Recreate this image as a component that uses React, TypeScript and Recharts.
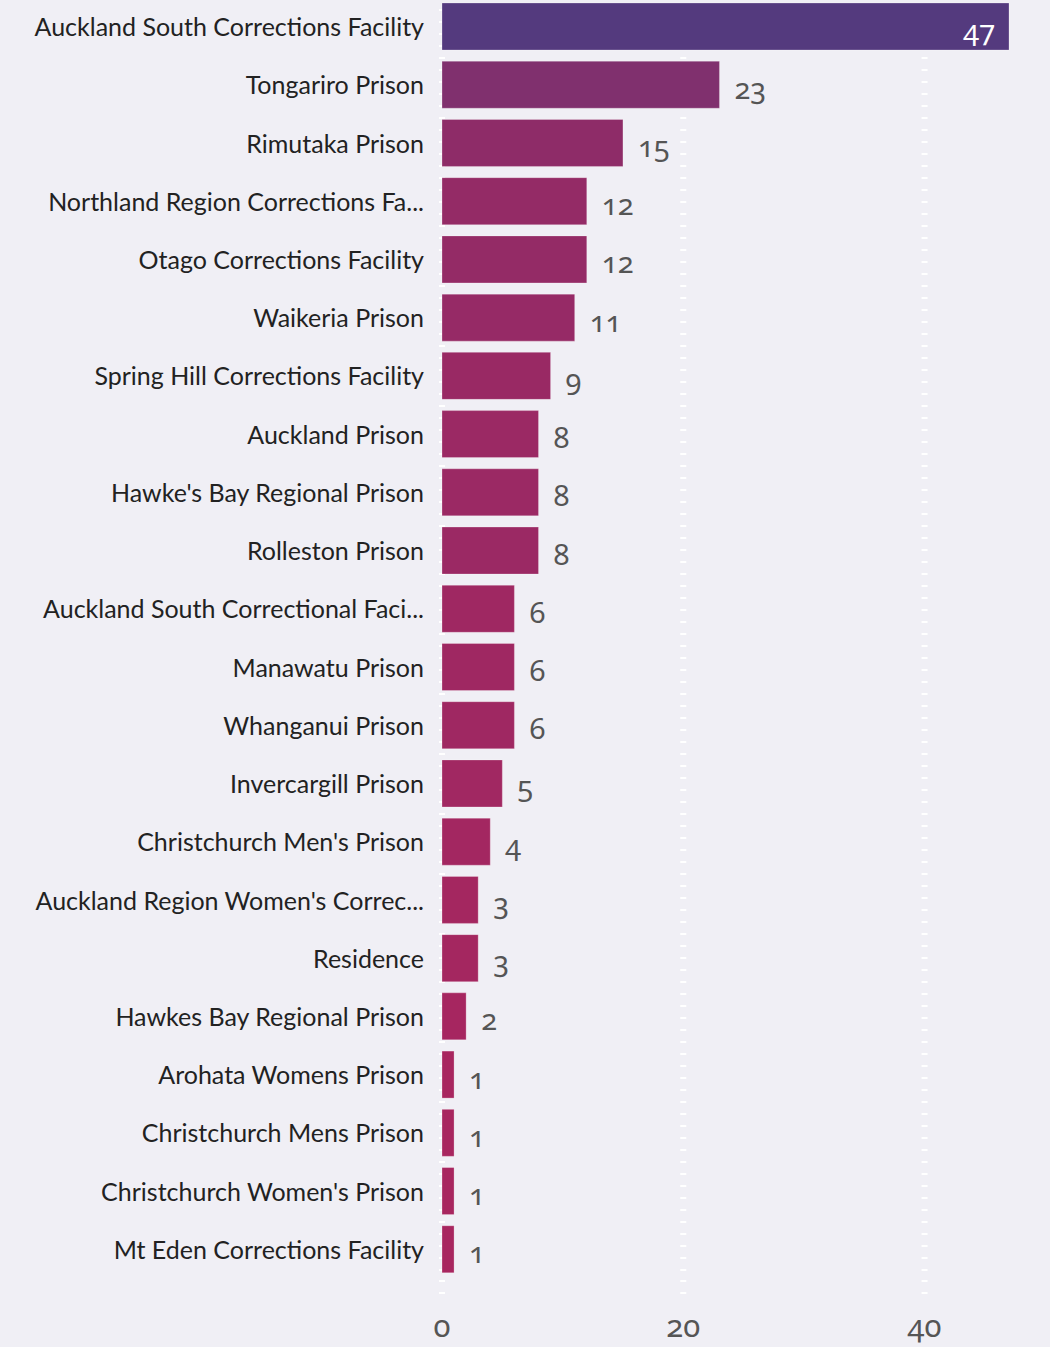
import React from 'react';
import { BarChart, Bar, XAxis, YAxis, CartesianGrid, Cell, LabelList } from 'recharts';

const facilities = [
  'Auckland South Corrections Facility',
  'Tongariro Prison',
  'Rimutaka Prison',
  'Northland Region Corrections Fa...',
  'Otago Corrections Facility',
  'Waikeria Prison',
  'Spring Hill Corrections Facility',
  'Auckland Prison',
  "Hawke's Bay Regional Prison",
  'Rolleston Prison',
  'Auckland South Correctional Faci...',
  'Manawatu Prison',
  'Whanganui Prison',
  'Invercargill Prison',
  "Christchurch Men's Prison",
  "Auckland Region Women's Correc...",
  'Residence',
  'Hawkes Bay Regional Prison',
  'Arohata Womens Prison',
  'Christchurch Mens Prison',
  "Christchurch Women's Prison",
  'Mt Eden Corrections Facility',
];

const counts = [47, 23, 15, 12, 12, 11, 9, 8, 8, 8, 6, 6, 6, 5, 4, 3, 3, 2, 1, 1, 1, 1];

const xTicks = [0, 20, 40];

const data = facilities.map((name, i) => ({ name, value: counts[i] }));

const maxVal = Math.max(...counts);
const minVal = Math.min(...counts);

// low values -> magenta, high values -> purple
const lowColor = [168, 38, 95];
const highColor = [84, 58, 126];

const colorFor = (v: number) => {
  const f = (v - minVal) / (maxVal - minVal);
  const c = lowColor.map((lo, i) => Math.round(lo + f * (highColor[i] - lo)));
  return `rgb(${c[0]},${c[1]},${c[2]})`;
};

const numFont = {
  fontFamily: '"Noto Sans", sans-serif',
  fontVariantNumeric: 'oldstyle-nums' as const,
};

const CategoryTick = (props: any) => {
  const { x, y, payload } = props;
  return (
    <text
      x={x - 10}
      y={y + 10}
      textAnchor="end"
      fill="#222"
      fontSize={25}
      fontFamily="Lato, sans-serif"
    >
      {payload.value}
    </text>
  );
};

const ValueTick = (props: any) => {
  const { x, y, payload } = props;
  return (
    <text x={x} y={y + 41} textAnchor="middle" fill="#555" fontSize={31} style={numFont}>
      {payload.value}
    </text>
  );
};

const ValueLabel = (props: any) => {
  const { x, y, width, height, value } = props;
  const inside = value === maxVal;
  return (
    <text
      x={inside ? x + width - 14 : x + width + 15}
      y={y + height / 2 + 14}
      textAnchor={inside ? 'end' : 'start'}
      fill={inside ? '#fff' : '#555'}
      fontSize={29}
      style={numFont}
    >
      {value}
    </text>
  );
};

export default function App() {
  return (
    <div style={{ position: 'absolute', left: 0, top: 0, width: 1050, height: 1347, background: '#f0eff5' }}>
      <BarChart
        width={1050}
        height={1347}
        data={data}
        layout="vertical"
        margin={{ top: -3, right: 41, bottom: 0, left: 0 }}
        barSize={47}
      >
        <CartesianGrid
          horizontal={false}
          verticalValues={xTicks}
          stroke="#ffffff"
          strokeWidth={6}
          strokeDasharray="2 10"
        />
        <XAxis
          type="number"
          domain={[0, maxVal]}
          ticks={xTicks}
          axisLine={false}
          tickLine={{ stroke: '#ffffff', strokeWidth: 6, strokeDasharray: '2 10' }}
          tickSize={16}
          height={69}
          tick={<ValueTick />}
        />
        <YAxis
          type="category"
          dataKey="name"
          width={442}
          axisLine={false}
          tickLine={false}
          interval={0}
          tick={<CategoryTick />}
        />
        <Bar dataKey="value" isAnimationActive={false} stroke="rgba(255,255,255,0.25)" strokeWidth={1}>
          {data.map((d) => (
            <Cell key={d.name} fill={colorFor(d.value)} />
          ))}
          <LabelList dataKey="value" content={<ValueLabel />} />
        </Bar>
      </BarChart>
    </div>
  );
}
